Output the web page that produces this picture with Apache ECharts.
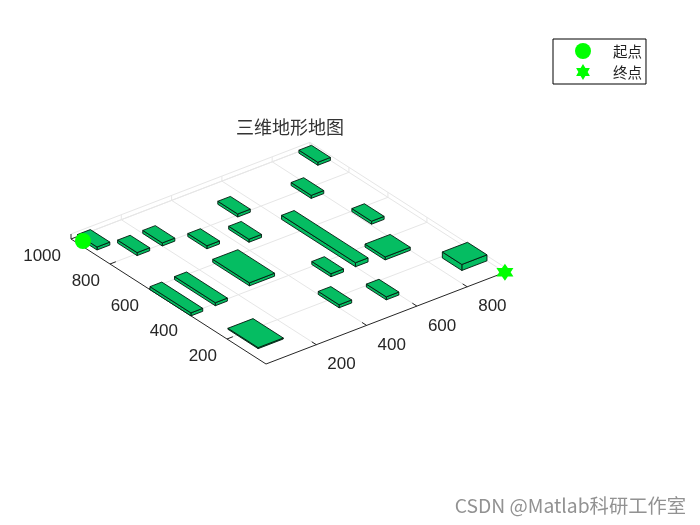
<!DOCTYPE html>
<html>
<head>
<meta charset="utf-8">
<style>html,body{margin:0;padding:0;background:#fff}#main{width:700px;height:525px}</style>
<script src="https://cdn.jsdelivr.net/npm/echarts@6/dist/echarts.min.js"></script>
</head>
<body>
<div id="main"></div>
<script>
// terrain blocks, one entry per block
const blockX0 = [22, 100, 200, 300, 500, 430, 900, 755, 805, 600, 700, 850, 500, 548, 400, 262, 100, 0, 40];
const blockX1 = [73, 150, 250, 350, 550, 480, 950, 805, 855, 650, 800, 950, 550, 598, 450, 362, 148, 47, 140];
const blockY0 = [895, 790, 790, 690, 790, 642, 895, 742, 497, 315, 292, 92, 312, 90, 141, 423, 389, 385, 92];
const blockY1 = [995, 890, 890, 788, 892, 746, 992, 845, 598, 694, 395, 192, 410, 192, 248, 611, 598, 595, 247];
const blockH = [30, 30, 30, 30, 30, 30, 30, 30, 30, 40, 30, 60, 30, 30, 30, 30, 30, 30, 10];

const xTicks = [200, 400, 600, 800];
const yTicks = [200, 400, 600, 800, 1000];
const xMax = 950;
const yMax = 1000;
const zMax = 50;

const startPoint = [22, 967, 0];
const endPoint = [950, 0, 0];

// fixed MATLAB-like view, data units to page pixels
function project(x, y, z) {
  return [266 + 0.2515 * x - 0.195 * y, 364 - 0.0965 * x - 0.125 * y - 0.1 * z];
}

const GRID = "#e6e6e6";
const AXIS = "#262626";
const GREEN = "#05bd62";
const EDGE = "#031a0e";
const MARK = "#00ff00";

// line rows: x0,y0,z0,x1,y1,z1
const gridRows = [];
xTicks.forEach((t) => {
  gridRows.push([t, 0, 0, t, yMax, 0]);
  gridRows.push([t, yMax, 0, t, yMax, zMax]);
});
yTicks.forEach((t) => {
  gridRows.push([0, t, 0, xMax, t, 0]);
  gridRows.push([xMax, t, 0, xMax, t, zMax]);
});
gridRows.push([0, yMax, zMax, xMax, yMax, zMax]);
gridRows.push([xMax, 0, zMax, xMax, yMax, zMax]);
gridRows.push([xMax, yMax, 0, xMax, yMax, zMax]);
gridRows.push([0, yMax, 0, xMax, yMax, 0]);
gridRows.push([xMax, 0, 0, xMax, yMax, 0]);

const axisRows = [
  [0, 0, 0, xMax, 0, 0],
  [0, 0, 0, 0, yMax, 0],
  [0, yMax, 0, 0, yMax, zMax],
];

const tickLen = 7 / 0.3;
const tickRows = [];
xTicks.forEach((t) => tickRows.push([t, 0, 0, t, tickLen, 0]));
yTicks.forEach((t) => tickRows.push([0, t, 0, tickLen, t, 0]));

function lineSeries(rows, color, width) {
  return {
    type: "custom",
    silent: true,
    clip: false,
    data: rows,
    renderItem: (params, api) => {
      const a = api.coord(project(api.value(0), api.value(1), api.value(2)));
      const b = api.coord(project(api.value(3), api.value(4), api.value(5)));
      return {
        type: "line",
        shape: { x1: a[0], y1: a[1], x2: b[0], y2: b[1] },
        style: { stroke: color, lineWidth: width },
      };
    },
  };
}

function poly(api, pts, fill) {
  return {
    type: "polygon",
    shape: { points: pts.map((p) => api.coord(project(p[0], p[1], p[2]))) },
    style: { fill, stroke: EDGE, lineWidth: 0.9, lineJoin: "round" },
  };
}

// far blocks first so nearer ones paint over them
const blockRows = blockX0
  .map((x0, i) => [x0, blockX1[i], blockY0[i], blockY1[i], blockH[i]])
  .sort((a, b) => b[0] + b[2] - (a[0] + a[2]));

const xLabelRows = xTicks.map((t) => project(t, 0, 0).concat(t));
const yLabelRows = yTicks.map((t) => project(0, t, 0).concat(t));

function labelSeries(rows, align, dx, dy) {
  return {
    type: "custom",
    silent: true,
    clip: false,
    data: rows,
    renderItem: (params, api) => {
      const p = api.coord([api.value(0), api.value(1)]);
      return {
        type: "text",
        style: {
          x: p[0] + dx,
          y: p[1] + dy,
          text: String(api.value(2)),
          fill: AXIS,
          font: '17px "Liberation Sans", Arial, sans-serif',
          align,
          verticalAlign: "middle",
        },
      };
    },
  };
}

const chart = echarts.init(document.getElementById("main"), null, { renderer: "canvas" });

chart.setOption({
  animation: false,
  backgroundColor: "#fff",
  title: {
    text: "三维地形地图",
    left: 236,
    top: 118,
    padding: 0,
    textStyle: { color: "#333", fontSize: 18, fontWeight: 400, fontFamily: '"Noto Sans CJK SC"' },
  },
  legend: {
    data: ["起点", "终点"],
    orient: "vertical",
    left: 553,
    top: 39,
    padding: [4, 4, 4, 22],
    itemWidth: 16,
    itemHeight: 16,
    itemGap: 5,
    borderColor: "#000",
    borderWidth: 1,
    selectedMode: false,
    textStyle: { color: "#222", fontSize: 14.5, fontFamily: '"Noto Sans CJK SC"', padding: [2, 0, 0, 17] },
  },
  grid: { left: 0, right: 0, top: 0, bottom: 0 },
  xAxis: { type: "value", min: 0, max: 700, show: false },
  yAxis: { type: "value", min: 0, max: 525, inverse: true, show: false },
  graphic: [
    {
      type: "text",
      right: 14,
      top: 496,
      style: {
        text: "CSDN @Matlab科研工作室",
        fill: "#929292",
        font: '19.3px "Noto Sans CJK SC"',
      },
    },
  ],
  series: [
    lineSeries(gridRows, GRID, 1),
    lineSeries(tickRows, AXIS, 1),
    lineSeries(axisRows, AXIS, 1),
    labelSeries(xLabelRows, "left", 11, 20),
    labelSeries(yLabelRows, "right", -10, 17),
    {
      type: "custom",
      silent: true,
      clip: false,
      data: blockRows,
      renderItem: (params, api) => {
        const x0 = api.value(0), x1 = api.value(1), y0 = api.value(2), y1 = api.value(3), h = api.value(4);
        return {
          type: "group",
          children: [
            poly(api, [[x0, y0, 0], [x1, y0, 0], [x1, y0, h], [x0, y0, h]], GREEN),
            poly(api, [[x0, y0, 0], [x0, y1, 0], [x0, y1, h], [x0, y0, h]], GREEN),
            poly(api, [[x0, y0, h], [x1, y0, h], [x1, y1, h], [x0, y1, h]], GREEN),
          ],
        };
      },
    },
    {
      name: "起点",
      type: "scatter",
      silent: true,
      symbol: "circle",
      symbolSize: 16,
      itemStyle: { color: MARK, opacity: 1 },
      data: [project(startPoint[0], startPoint[1], startPoint[2])],
    },
    {
      name: "终点",
      type: "scatter",
      silent: true,
      symbol: "path://M50 0 L65 25 L93 25 L79 50 L93 75 L65 75 L50 100 L35 75 L7 75 L21 50 L7 25 L35 25Z",
      symbolSize: 17,
      itemStyle: { color: MARK, opacity: 1 },
      data: [project(endPoint[0], endPoint[1], endPoint[2])],
    },
  ],
});
</script>
</body>
</html>
